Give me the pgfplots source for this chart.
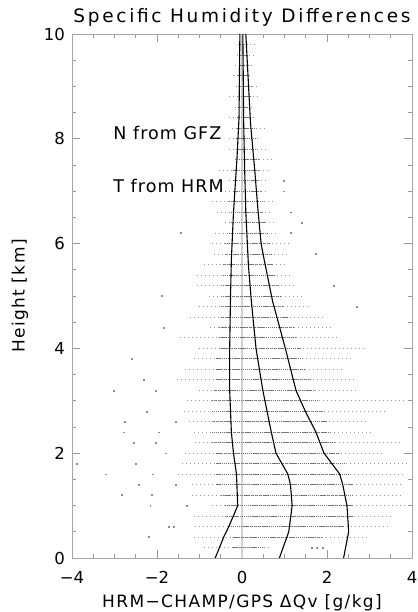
\documentclass[border=0pt]{standalone}
\usepackage{pgfplots}
\pgfplotsset{compat=1.18}
\usepackage{fontspec}
\setmainfont{DejaVu Sans}
\newfontfamily\titlefont[LetterSpace=14.5]{DejaVu Sans}
\newfontfamily\labfont[LetterSpace=8]{DejaVu Sans}
\newfontfamily\notefont[LetterSpace=6]{DejaVu Sans}

\begin{document}
\begin{tikzpicture}
\begin{axis}[
    scale only axis,
    width=340bp, height=524bp,
    xmin=-4, xmax=4, ymin=0, ymax=10,
    xtick={-4,-2,0,2,4},
    xticklabels={−4,−2,0,2,4},
    ytick={0,2,4,6,8,10},
    yticklabels={0,2,4,6,8,10},
    minor x tick num=3, minor y tick num=3,
    major tick length=8bp, minor tick length=4bp,
    tick align=inside,
    axis line style={black!35, line width=0.7bp},
    every tick/.style={black!40, line width=0.7bp},
    tick label style={font=\fontsize{16.5bp}{18bp}\selectfont, black},
    xticklabel style={anchor=base, inner sep=0pt, yshift=-25bp},
    yticklabel style={anchor=east, inner sep=0pt, xshift=-7bp},
    title={Specific Humidity Differences},
    title style={font=\titlefont\fontsize{18.5bp}{20bp}\selectfont,
        at={(axis description cs:0.5,1)}, anchor=base, yshift=5.5bp, inner sep=0pt},
    xlabel={HRM−CHAMP/GPS ΔQv [g/kg]},
    xlabel style={font=\labfont\fontsize{17bp}{18bp}\selectfont,
        at={(axis description cs:0.5,0)}, anchor=base, yshift=-49bp, inner sep=0pt},
    ylabel={Height [km]},
    ylabel style={font=\labfont\fontsize{17bp}{18bp}\selectfont,
        at={(axis description cs:0,0.5)}, anchor=center, yshift=52bp, inner sep=0pt},
    unbounded coords=jump,
]
% zero line
\addplot[black!18, line width=2bp] coordinates {(0,0) (0,10)};
% sparse part of each level
\addplot[black!40, line width=0.9bp, dash pattern=on 0.8bp off 3.2bp] coordinates {
(-0.20,0.0) (0.75,0.0) (nan,nan)
(-0.90,0.2) (0.70,0.2) (nan,nan)
(-1.14,0.4) (2.94,0.4) (nan,nan)
(-1.10,0.6) (3.49,0.6) (nan,nan)
(-1.14,0.8) (3.49,0.8) (nan,nan)
(-0.71,1.0) (3.84,1.0) (nan,nan)
(-1.18,1.2) (3.76,1.2) (nan,nan)
(-1.18,1.4) (3.76,1.4) (nan,nan)
(-1.50,1.6) (3.84,1.6) (nan,nan)
(-1.41,1.8) (3.90,1.8) (nan,nan)
(-1.33,2.0) (3.37,2.0) (nan,nan)
(-1.10,2.2) (3.76,2.2) (nan,nan)
(-1.14,2.4) (3.06,2.4) (nan,nan)
(-1.25,2.6) (2.98,2.6) (nan,nan)
(-1.37,2.8) (3.40,2.8) (nan,nan)
(-1.30,3.0) (3.85,3.0) (nan,nan)
(-1.02,3.2) (2.70,3.2) (nan,nan)
(-1.53,3.4) (2.67,3.4) (nan,nan)
(-1.33,3.6) (2.43,3.6) (nan,nan)
(-1.14,3.8) (2.55,3.8) (nan,nan)
(-1.02,4.0) (2.90,4.0) (nan,nan)
(-1.45,4.2) (2.27,4.2) (nan,nan)
(-0.75,4.4) (2.12,4.4) (nan,nan)
(-1.22,4.6) (1.96,4.6) (nan,nan)
(-1.02,4.8) (1.57,4.8) (nan,nan)
(-0.78,5.0) (1.41,5.0) (nan,nan)
(-1.06,5.2) (1.25,5.2) (nan,nan)
(-1.06,5.4) (1.18,5.4) (nan,nan)
(-0.90,5.6) (1.06,5.6) (nan,nan)
(-0.67,5.8) (1.10,5.8) (nan,nan)
(-0.71,6.0) (1.14,6.0) (nan,nan)
(-0.63,6.2) (0.86,6.2) (nan,nan)
(-0.39,6.4) (0.82,6.4) (nan,nan)
(-0.59,6.6) (0.71,6.6) (nan,nan)
(-0.71,6.8) (0.78,6.8) (nan,nan)
(-0.39,7.0) (0.63,7.0) (nan,nan)
(-0.31,7.2) (0.55,7.2) (nan,nan)
(-0.55,7.4) (0.63,7.4) (nan,nan)
(-0.16,7.6) (0.78,7.6) (nan,nan)
(-0.31,7.8) (0.63,7.8) (nan,nan)
(-0.31,8.0) (0.39,8.0) (nan,nan)
(-0.24,8.2) (0.55,8.2) (nan,nan)
(-0.31,8.4) (0.27,8.4) (nan,nan)
(-0.16,8.6) (0.31,8.6) (nan,nan)
(-0.31,8.8) (0.35,8.8) (nan,nan)
(-0.15,9.0) (0.40,9.0) (nan,nan)
(-0.20,9.2) (0.20,9.2) (nan,nan)
(-0.16,9.4) (0.24,9.4) (nan,nan)
(-0.12,9.6) (0.27,9.6) (nan,nan)
(-0.10,9.8) (0.35,9.8) (nan,nan)
(-0.05,10.0) (0.15,10.0)
};
% dense core of each level
\addplot[black!55, line width=0.9bp, dash pattern=on 1.2bp off 0.7bp] coordinates {
(-0.20,0.2) (0.50,0.2) (nan,nan)
(-0.20,0.4) (1.90,0.4) (nan,nan)
(-0.30,0.6) (2.40,0.6) (nan,nan)
(-0.40,0.8) (2.60,0.8) (nan,nan)
(-0.40,1.0) (2.60,1.0) (nan,nan)
(-0.50,1.2) (2.60,1.2) (nan,nan)
(-0.60,1.4) (2.60,1.4) (nan,nan)
(-0.60,1.6) (2.50,1.6) (nan,nan)
(-0.60,1.8) (2.40,1.8) (nan,nan)
(-0.60,2.0) (2.30,2.0) (nan,nan)
(-0.70,2.2) (2.20,2.2) (nan,nan)
(-0.70,2.4) (2.10,2.4) (nan,nan)
(-0.70,2.6) (2.00,2.6) (nan,nan)
(-0.70,2.8) (1.90,2.8) (nan,nan)
(-0.70,3.0) (1.80,3.0) (nan,nan)
(-0.65,3.2) (1.70,3.2) (nan,nan)
(-0.60,3.4) (1.60,3.4) (nan,nan)
(-0.60,3.6) (1.50,3.6) (nan,nan)
(-0.60,3.8) (1.45,3.8) (nan,nan)
(-0.55,4.0) (1.40,4.0) (nan,nan)
(-0.55,4.2) (1.25,4.2) (nan,nan)
(-0.55,4.4) (1.20,4.4) (nan,nan)
(-0.50,4.6) (1.10,4.6) (nan,nan)
(-0.50,4.8) (1.00,4.8) (nan,nan)
(-0.50,5.0) (0.90,5.0) (nan,nan)
(-0.50,5.2) (0.85,5.2) (nan,nan)
(-0.45,5.4) (0.80,5.4) (nan,nan)
(-0.45,5.6) (0.75,5.6) (nan,nan)
(-0.40,5.8) (0.70,5.8) (nan,nan)
(-0.40,6.0) (0.65,6.0) (nan,nan)
(-0.35,6.2) (0.60,6.2) (nan,nan)
(-0.30,6.4) (0.55,6.4) (nan,nan)
(-0.30,6.6) (0.50,6.6) (nan,nan)
(-0.30,6.8) (0.50,6.8) (nan,nan)
(-0.20,7.0) (0.45,7.0) (nan,nan)
(-0.20,7.2) (0.40,7.2) (nan,nan)
(-0.20,7.4) (0.40,7.4) (nan,nan)
(-0.12,7.6) (0.40,7.6) (nan,nan)
(-0.15,7.8) (0.35,7.8) (nan,nan)
(-0.15,8.0) (0.30,8.0) (nan,nan)
(-0.12,8.2) (0.30,8.2) (nan,nan)
(-0.12,8.4) (0.20,8.4) (nan,nan)
(-0.10,8.6) (0.20,8.6) (nan,nan)
(-0.12,8.8) (0.22,8.8) (nan,nan)
(-0.10,9.0) (0.25,9.0) (nan,nan)
(-0.10,9.2) (0.15,9.2) (nan,nan)
(-0.08,9.4) (0.16,9.4) (nan,nan)
(-0.05,9.6) (0.15,9.6) (nan,nan)
(-0.05,9.8) (0.15,9.8)
};
% isolated points
\addplot[only marks, mark=square*, mark size=0.45bp, black!45] coordinates {
(1.65,0.2) (1.75,0.2) (1.90,0.2) (-2.20,0.4) (-1.73,0.6) (-1.61,0.6)
(-2.16,1.0) (-1.30,1.0) (-2.82,1.2) (-2.12,1.2) (-2.43,1.4) (-1.57,1.4)
(-3.20,1.6) (-2.10,1.6) (-3.88,1.8) (-2.51,1.8) (-1.80,2.0) (-2.55,2.2)
(-2.04,2.2) (-2.78,2.4) (-1.96,2.4) (-2.75,2.6) (-1.57,2.6) (-2.24,2.8)
(-3.02,3.2) (-2.04,3.2) (-2.31,3.4) (-2.59,3.8) (-1.84,4.4) (2.70,4.8)
(-1.88,5.0) (2.16,5.2) (1.73,5.8) (-1.45,6.2) (1.14,6.2) (1.41,6.4)
(1.14,6.6) (0.98,7.0) (0.98,7.2)
};
% mean - std
\addplot[black, line width=1.1bp] coordinates {
(-0.63,0) (-0.43,0.4) (-0.31,0.6) (-0.10,1.0) (-0.13,1.6) (-0.20,2.0)
(-0.25,2.4) (-0.29,3.2) (-0.29,4.0) (-0.27,5.0) (-0.25,5.7) (-0.20,6.6)
(-0.12,7.6) (-0.07,8.4) (-0.05,10)
};
% mean
\addplot[black, line width=1.1bp] coordinates {
(0.88,0) (1.10,0.5) (1.18,1.0) (1.14,1.4) (1.08,1.6) (0.80,2.0) (0.69,2.4)
(0.59,2.8) (0.49,3.2) (0.33,4.0) (0.22,4.9) (0.15,5.6) (0.09,6.6) (0.06,7.5)
(0.04,8.3) (0.02,10)
};
% mean + std
\addplot[black, line width=1.1bp] coordinates {
(2.39,0) (2.51,0.5) (2.47,1.0) (2.37,1.4) (2.30,1.6) (1.93,2.0) (1.74,2.4)
(1.49,2.8) (1.27,3.2) (1.02,4.0) (0.72,4.9) (0.52,5.7) (0.45,6.0) (0.38,6.6)
(0.30,7.4) (0.20,8.3) (0.09,10)
};
\node[anchor=base west, inner sep=0pt, font=\notefont\fontsize{17.5bp}{18bp}\selectfont]
    at (axis cs:-3.03,7.98) {N from GFZ};
\node[anchor=base west, inner sep=0pt, font=\notefont\fontsize{17.5bp}{18bp}\selectfont]
    at (axis cs:-3.03,6.98) {T from HRM};
\end{axis}
\pgfresetboundingbox
\useasboundingbox (-72bp,-54bp) rectangle (346bp,558bp);
\end{tikzpicture}
\end{document}
